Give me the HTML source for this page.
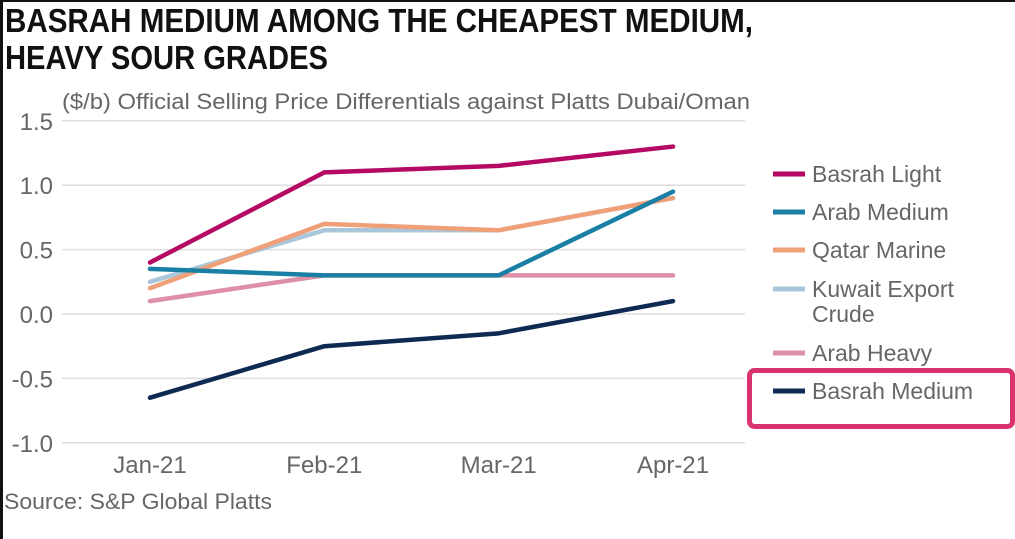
<!DOCTYPE html>
<html><head><meta charset="utf-8"><style>
html,body{margin:0;padding:0;background:#fff;}
svg{display:block;font-family:"Liberation Sans Narrow","Liberation Sans",sans-serif;}
</style></head><body>
<svg id="chart" width="1015" height="539" viewBox="0 0 1015 539" xmlns="http://www.w3.org/2000/svg">
<rect x="0" y="0" width="1015" height="539" fill="#fff"/>
<rect x="0" y="0" width="1015" height="2" fill="#111"/>
<rect x="0" y="0" width="3" height="539" fill="#111"/>
<text x="5" y="32" font-size="33" font-weight="bold" fill="#111" textLength="748" lengthAdjust="spacingAndGlyphs">BASRAH MEDIUM AMONG THE CHEAPEST MEDIUM,</text>
<text x="5" y="69" font-size="33" font-weight="bold" fill="#111" textLength="323" lengthAdjust="spacingAndGlyphs">HEAVY SOUR GRADES</text>
<text x="62" y="109" font-size="22" fill="#666" textLength="688" lengthAdjust="spacingAndGlyphs">($/b) Official Selling Price Differentials against Platts Dubai/Oman</text>
<g id="grid"></g><g id="lines"></g><g id="legend"></g>
<text x="4" y="509" font-size="22" fill="#666" textLength="268" lengthAdjust="spacingAndGlyphs">Source: S&amp;P Global Platts</text>
<rect x="749.5" y="370.5" width="263" height="56" rx="5" fill="none" stroke="#d8336f" stroke-width="5"/>
</svg>
<script>
const categories=["Jan-21","Feb-21","Mar-21","Apr-21"];
const yTicks=[1.5,1.0,0.5,0.0,-0.5,-1.0];
const yTickLabels=["1.5","1.0","0.5","0.0","-0.5","-1.0"];
const seriesNames=["Basrah Light","Arab Medium","Qatar Marine","Kuwait Export Crude","Arab Heavy","Basrah Medium"];
const basrahLight=[0.4,1.1,1.15,1.3];
const arabMedium=[0.35,0.3,0.3,0.95];
const qatarMarine=[0.2,0.7,0.65,0.9];
const kuwaitExport=[0.25,0.65,0.65,0.9];
const arabHeavy=[0.1,0.3,0.3,0.3];
const basrahMedium=[-0.65,-0.25,-0.15,0.1];
const NS="http://www.w3.org/2000/svg";
function xs(i){return 150+i*(673-150)/3;}
function ys(v){return 314-v*128.8;}
const grid=document.getElementById('grid');
yTicks.forEach((t,i)=>{
 const l=document.createElementNS(NS,'line');
 
 
 l.setAttribute('x1',62);l.setAttribute('x2',745);l.setAttribute('y1',ys(t));l.setAttribute('y2',ys(t));
 l.setAttribute('stroke','#ddd');l.setAttribute('stroke-width','1.5');grid.appendChild(l);
 const tx=document.createElementNS(NS,'text');
 
 
 tx.setAttribute('x',53);tx.setAttribute('y',ys(t)+9);tx.setAttribute('text-anchor','end');
 tx.setAttribute('font-size','24');tx.setAttribute('fill','#666');tx.textContent=yTickLabels[i];grid.appendChild(tx);
});
categories.forEach((c,i)=>{
 const tx=document.createElementNS(NS,'text');
 
 
 tx.setAttribute('x',xs(i));tx.setAttribute('y',473);tx.setAttribute('text-anchor','middle');
 tx.setAttribute('font-size','24');tx.setAttribute('fill','#666');tx.textContent=c;grid.appendChild(tx);
});
const order=[
 [arabHeavy,'#dc8fa6','arab-heavy-line'],
 [kuwaitExport,'#a9c6da','kuwait-export-line'],
 [qatarMarine,'#f0a078','qatar-marine-line'],
 [arabMedium,'#1a7fa4','arab-medium-line'],
 [basrahLight,'#b50a63','basrah-light-line'],
 [basrahMedium,'#0e2a52','basrah-medium-line']];
const lines=document.getElementById('lines');
order.forEach(s=>{
 const p=document.createElementNS(NS,'polyline');
 
 
 p.setAttribute('points',s[0].map((v,i)=>xs(i)+','+ys(v)).join(' '));
 p.setAttribute('fill','none');p.setAttribute('stroke',s[1]);p.setAttribute('stroke-width','4.5');
 p.setAttribute('stroke-linecap','round');p.setAttribute('stroke-linejoin','round');
 lines.appendChild(p);
});
const legColors=['#b50a63','#1a7fa4','#f0a078','#a9c6da','#dc8fa6','#0e2a52'];
const legY=[174,212,250,289,353,391];
const legend=document.getElementById('legend');
seriesNames.forEach((n,i)=>{
 const sw=document.createElementNS(NS,'rect');
 
 
 sw.setAttribute('x',773);sw.setAttribute('y',legY[i]-2.5);sw.setAttribute('width',32);sw.setAttribute('height',5);sw.setAttribute('fill',legColors[i]);
 legend.appendChild(sw);
 const parts=n==="Kuwait Export Crude"?["Kuwait Export","Crude"]:[n];
 parts.forEach((t,k)=>{
  const tx=document.createElementNS(NS,'text');
  
  
  tx.setAttribute('x',812);tx.setAttribute('y',legY[i]+8+k*25);
  tx.setAttribute('font-size','23');tx.setAttribute('fill','#666');tx.textContent=t;legend.appendChild(tx);
 });
});
</script>
</body></html>
